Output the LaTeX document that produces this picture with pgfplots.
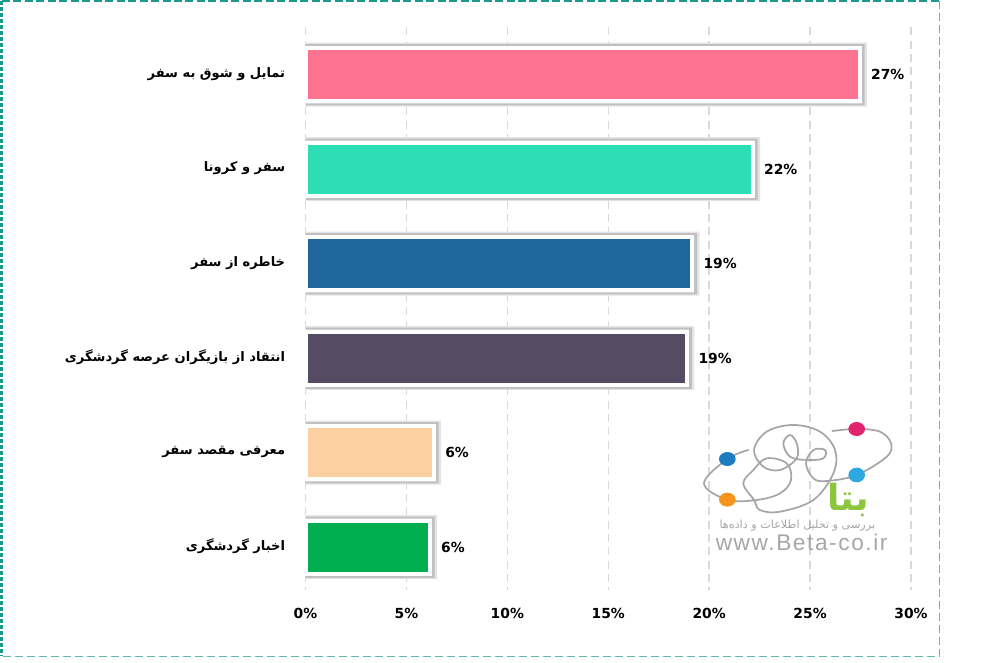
\documentclass[border=0pt]{standalone}
\usepackage{fontspec}
\usepackage{pgfplots}
\pgfplotsset{compat=1.18}
\setmainfont{DejaVu Sans}
\newfontfamily\arfont[Script=Arabic]{DejaVu Sans}
\newfontfamily\wwwfont[LetterSpace=7]{Liberation Sans}
\TeXXeTstate=1
\definecolor{frameteal}{HTML}{1A9A8F}
\definecolor{gridc}{HTML}{D9D9D9}
\definecolor{shadowc}{HTML}{C0C0C2}
\definecolor{shadowl}{HTML}{E4E4E6}
\definecolor{logoc}{HTML}{A6A6A6}
\definecolor{dotpink}{HTML}{E0246F}
\definecolor{dotsky}{HTML}{2FA8E0}
\definecolor{dotblue}{HTML}{1B7CC0}
\definecolor{dotorange}{HTML}{F7941D}
\definecolor{logogreen}{HTML}{8CC63F}
\begin{document}
\begin{tikzpicture}[x=0.75pt,y=-0.75pt]
\useasboundingbox (0,0) rectangle (992,663);
% frame
\draw[frameteal,line width=2.2pt,dash pattern=on 3pt off 1.5pt] (1.8,1)--(1.8,656);
\draw[frameteal,line width=1.6pt,dash pattern=on 6pt off 2.6pt] (2,1)--(939,1);
\draw[frameteal!70,line width=0.7pt,dash pattern=on 6pt off 3pt] (939,1)--(939,656.5)--(2,656.5);
\begin{axis}[
  at={(229.125pt,-20.6pt)},anchor=north west,
  scale only axis,width=454.1pt,height=421.7pt,
  xmin=0,xmax=30,ymin=-0.5,ymax=5.45,y dir=reverse,
  clip=false,
  xbar,
  xtick={0,5,10,15,20,25,30},
  ytick={0,1,2,3,4,5},
  yticklabels={{\arfont\bfseries\beginR تمایل و شوق به سفر\endR},{\arfont\bfseries\beginR سفر و کرونا\endR},{\arfont\bfseries\beginR خاطره از سفر\endR},{\arfont\bfseries\beginR انتقاد از بازیگران عرصه گردشگری\endR},{\arfont\bfseries\beginR معرفی مقصد سفر\endR},{\arfont\bfseries\beginR اخبار گردشگری\endR}},
  xticklabel={\pgfmathprintnumber{\tick}\%},
  /pgf/number format/assume math mode=true,
  xticklabel pos=lower,
  xticklabel style={font=\fontsize{10.4}{12}\selectfont\bfseries,yshift=-10.5pt},
  yticklabel style={font=\fontsize{9.8}{12}\selectfont,xshift=-7.5pt,yshift=0.5pt},
  axis line style={draw=none},
  major tick style={draw=none},
  xmajorgrids,
  grid style={gridc,dash pattern=on 6pt off 4pt,line width=1pt},
  every axis plot/.append style={bar shift=0pt},
]
\addplot[fill=shadowl,draw=none,bar width=48pt] coordinates {(27.82,0) (22.52,1) (19.52,2) (19.27,3) (6.72,4) (6.52,5)};
\addplot[fill=shadowc,draw=none,bar width=46pt] coordinates {(27.7,0) (22.4,1) (19.4,2) (19.15,3) (6.6,4) (6.4,5)};
\addplot[fill=white,draw=none,bar width=43pt] coordinates {(27.55,0) (22.25,1) (19.25,2) (19,3) (6.45,4) (6.25,5)};
\addplot[fill={rgb,255:red,255;green,115;blue,146},draw=white,line width=3pt,bar width=39.75pt] coordinates {(27.45,0)};
\addplot[fill={rgb,255:red,45;green,221;blue,179},draw=white,line width=3pt,bar width=39.75pt] coordinates {(22.15,1)};
\addplot[fill={rgb,255:red,31;green,102;blue,156},draw=white,line width=3pt,bar width=39.75pt] coordinates {(19.15,2)};
\addplot[fill={rgb,255:red,85;green,76;blue,99},draw=white,line width=3pt,bar width=39.75pt] coordinates {(18.9,3)};
\addplot[fill={rgb,255:red,253;green,208;blue,162},draw=white,line width=3pt,bar width=39.75pt] coordinates {(6.35,4)};
\addplot[fill={rgb,255:red,0;green,174;blue,79},draw=white,line width=3pt,bar width=39.75pt] coordinates {(6.15,5)};
\addplot[draw=none,mark=none,forget plot,fill=none,
  nodes near coords,point meta=explicit symbolic,
  every node near coord/.style={anchor=west,font=\fontsize{10.4}{12}\selectfont\bfseries,xshift=8.5pt,inner xsep=0pt}]
  coordinates {(27.45,0)[27\%] (22.15,1)[22\%] (19.15,2)[19\%] (18.9,3)[19\%] (6.35,4)[6\%] (6.15,5)[6\%]};
\end{axis}
% logo (decoration), coordinates in 3x crop space
\begin{scope}[shift={(680,400)},x=0.25pt,y=-0.25pt]
\draw[logoc,line width=1.3pt,line cap=round] plot[smooth,tension=0.6] coordinates {
(205,150)(142,177)(72,250)(142,299)(230,300)(300,280)(333,240)(320,190)(260,175)(220,210)(190,250)(222,300)(240,330)(300,335)(400,300)(460,220)(465,150)(420,95)(340,75)(260,95)(222,150)(250,200)(300,210)(350,175)(350,130)(330,105)(310,130)(330,170)(380,180)(430,175)(435,150)(400,150)(378,190)(400,235)(440,243)(530,225)(620,170)(633,130)(600,95)(530,87)(457,93)};
\fill[dotpink] (530,87) ellipse [x radius=25,y radius=21];
\fill[dotsky] (530,225) ellipse [x radius=25,y radius=22];
\fill[dotblue] (142,177) ellipse [x radius=25,y radius=21];
\fill[dotorange] (142,299) ellipse [x radius=25,y radius=21];
\node[logogreen,font=\fontsize{27}{28}\selectfont\arfont\bfseries] at (505,300) {\beginR بتا\endR};
\node[logoc,font=\fontsize{8.4}{9}\selectfont\arfont] at (352,378) {\beginR بررسی و تحلیل اطلاعات و داده‌ها\endR};
\node[logoc,font=\fontsize{17}{18}\selectfont\wwwfont] at (365,427) {www.Beta-co.ir};
\end{scope}
\end{tikzpicture}
\end{document}
